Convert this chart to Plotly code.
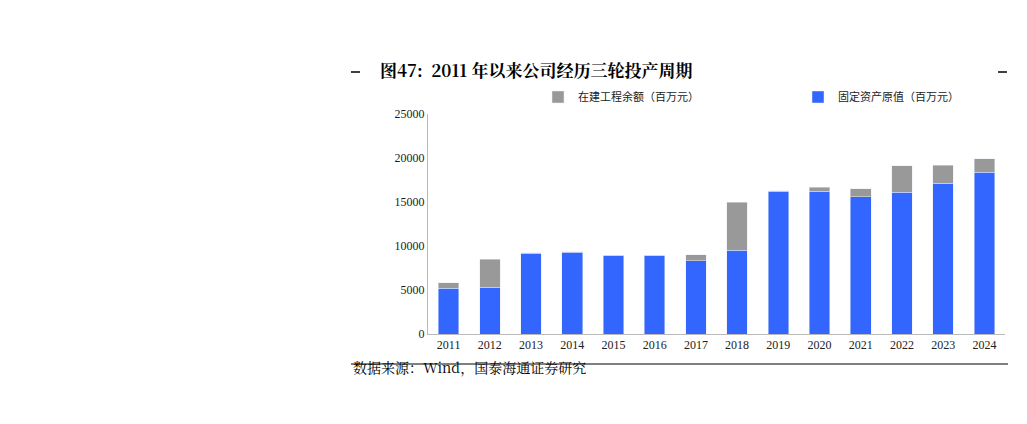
import plotly.graph_objects as go

years = [str(y) for y in range(2011, 2025)]
fixed_assets = [5200, 5300, 9200, 9300, 8900, 8900, 8300, 9500, 16250, 16250, 15600, 16100, 17150, 18400]
total = [5800, 8500, 9250, 9350, 8950, 8950, 9000, 15000, 16300, 16700, 16500, 19100, 19200, 19900]
construction = [t - f for t, f in zip(total, fixed_assets)]

W, H = 1027, 424
fig = go.Figure()
fig.add_trace(go.Bar(x=years, y=fixed_assets, name="固定资产原值（百万元）",
                     marker_color="#3366FF", width=0.5))
fig.add_trace(go.Bar(x=years, y=construction, name="在建工程余额（百万元）",
                     marker_color="#999999", width=0.5))

fig.update_layout(
    width=W, height=H, barmode="stack",
    paper_bgcolor="white", plot_bgcolor="white",
    font=dict(family="Noto Sans CJK SC", size=11, color="#222"),
    margin=dict(l=0, r=0, t=0, b=0, autoexpand=False),
    showlegend=True,
    legend=dict(orientation="h", x=530 / W, y=1 - 89 / H, xanchor="left", yanchor="middle",
                traceorder="reversed", font=dict(size=11), itemwidth=30,
                entrywidth=215),
)
fig.update_xaxes(domain=[420 / W, 997 / W], showline=True, linecolor="#bbb",
                 tickfont=dict(family="Times New Roman, Liberation Serif", size=12), ticks="")
fig.update_yaxes(domain=[1 - 326 / H, 1 - 106 / H], range=[0, 25000], dtick=5000,
                 tickformat="d", showline=True, linecolor="#bbb", showgrid=False, ticks="",
                 tickfont=dict(family="Times New Roman, Liberation Serif", size=12))

fig.add_annotation(x=370 / W, y=1 - 47 / H, xref="paper", yref="paper", xanchor="left",
                   text="<b>图47:  2011 年以来公司经历三轮投产周期</b>", showarrow=False,
                   font=dict(size=17, family="Noto Serif CJK SC, Liberation Serif, Noto Sans CJK SC", color="#000"))
fig.add_annotation(x=343 / W, y=1 - 371 / H, xref="paper", yref="paper", xanchor="left",
                   text="数据来源：Wind，国泰海通证券研究", showarrow=False,
                   font=dict(size=14, family="Noto Serif CJK SC, Liberation Serif, Noto Sans CJK SC", color="#000"))
fig.add_shape(type="line", xref="paper", yref="paper", x0=343 / W, x1=1000 / W,
              y0=1 - 356 / H, y1=1 - 356 / H, line=dict(color="#000", width=1))
for x0 in (343, 990):
    fig.add_shape(type="line", xref="paper", yref="paper", x0=x0 / W, x1=(x0 + 9) / W,
                  y0=1 - 64 / H, y1=1 - 64 / H, line=dict(color="#000", width=1.5))

fig.write_html("out.html")
